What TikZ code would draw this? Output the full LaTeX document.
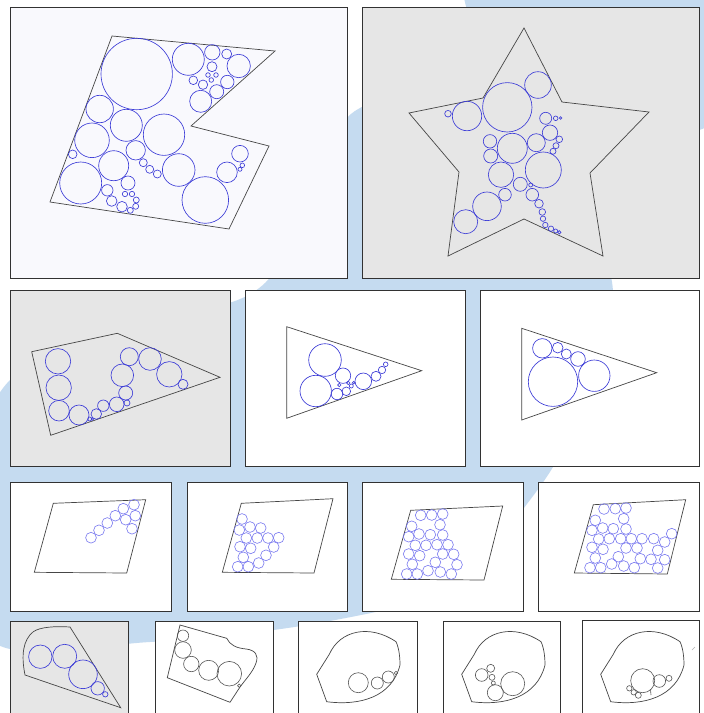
\documentclass[tikz,border=0pt]{standalone}
\definecolor{bgblue}{RGB}{197,219,240}
\definecolor{frame}{RGB}{50,50,50}
\definecolor{poly}{RGB}{70,70,70}
\definecolor{cblue}{RGB}{60,60,215}
\definecolor{lblue}{RGB}{120,120,240}
\definecolor{cgray}{RGB}{85,85,85}
\definecolor{panelgray}{RGB}{230,230,230}
\definecolor{panellav}{RGB}{249,249,253}
\tikzset{
  panelbox/.style={draw=frame, line width=0.9pt},
  shapeline/.style={draw=poly, line width=0.7pt, line join=miter},
  cb/.style={draw=cblue, line width=0.65pt},
  cl/.style={draw=lblue, line width=0.6pt},
  cg/.style={draw=cgray, line width=0.6pt},
}
\newcommand{\cir}[4]{\draw[#1] (#2,#3) circle[radius=#4pt];}
\newcommand{\leaf}{(316.7,674.3) -- (329.3,654.3) .. controls (340,630) and (370,624) .. (396,641.7) .. controls (399,648) and (400,657) .. (400,665) .. controls (392,697) and (360,706) .. (326.7,701.7) -- cycle}
\begin{document}
\begin{tikzpicture}[x=1pt,y=-1pt]
\useasboundingbox (0,0) rectangle (704,713);
\clip (0,0) rectangle (704,713);
\fill[white] (0,0) rectangle (704,713);
% background blue shapes (approximate)
\fill[bgblue] (640,-40) circle[radius=180pt];
\fill[bgblue] plot[smooth cycle, tension=0.6] coordinates {(10,380) (150,322) (265,283) (330,150) (360,108) (430,95) (530,150) (612,282) (575,420) (530,500) (450,585) (330,621) (150,642) (-10,640) (-25,500)};
% ---------- Panel 1 ----------
\filldraw[panelbox, fill=panellav] (10,7) rectangle (347,278);
\draw[shapeline] (112,36) -- (275,51) -- (191,126) -- (269,146) -- (229,229) -- (50,202) -- cycle;
\cir{cb}{136.7}{74}{35.7}
\cir{cb}{188.3}{59.3}{16}
\cir{cb}{212.3}{52.3}{7.7}
\cir{cb}{226.7}{54}{5}
\cir{cb}{238.7}{66}{11.7}
\cir{cb}{212}{66.7}{5}
\cir{cb}{208}{75}{2.3}
\cir{cb}{216}{75}{2.3}
\cir{cb}{211.3}{80}{2.3}
\cir{cb}{193.3}{80.3}{4.3}
\cir{cb}{203}{84.7}{4.7}
\cir{cb}{227.3}{82}{6.7}
\cir{cb}{216.7}{91.7}{7}
\cir{cb}{200.7}{101.3}{11}
\cir{cb}{99.7}{109}{13.7}
\cir{cb}{126.3}{125.3}{16}
\cir{cb}{164}{134.7}{20.7}
\cir{cb}{92}{140.3}{17.3}
\cir{cb}{72.7}{154.3}{4.3}
\cir{cb}{135.7}{150.3}{9.7}
\cir{cb}{113.7}{165.7}{15}
\cir{cb}{143.3}{162.7}{4}
\cir{cb}{149.7}{169.3}{4}
\cir{cb}{157.3}{174}{4}
\cir{cb}{178.7}{170}{16.3}
\cir{cb}{80.7}{183}{21}
\cir{cb}{128}{183}{7}
\cir{cb}{107.3}{190.3}{5.7}
\cir{cb}{125}{194}{2.7}
\cir{cb}{132}{194}{2.7}
\cir{cb}{136.3}{200}{3}
\cir{cb}{111.7}{201}{5.3}
\cir{cb}{135.7}{206.3}{3}
\cir{cb}{122}{206.7}{5.3}
\cir{cb}{130.3}{210.3}{3}
\cir{cb}{205.3}{200}{23.3}
\cir{cb}{227}{172.3}{10.3}
\cir{cb}{240}{153.7}{8.3}
\cir{cb}{242.3}{165.3}{2.3}
\cir{cb}{240}{169.3}{2}
% ---------- Panel 2 ----------
\filldraw[panelbox, fill=panelgray] (362,7) rectangle (699,278);
\draw[shapeline] (524,28) -- (562,102) -- (649,112) -- (590,173) -- (603,256) -- (524,219) -- (448,256) -- (459,172) -- (409,113) -- (483,98) -- cycle;
\cir{cb}{507.3}{107.3}{24.7}
\cir{cb}{538}{85}{13.3}
\cir{cb}{467}{116}{14.7}
\cir{cb}{448}{113.7}{3.3}
\cir{cb}{545.7}{118.3}{6}
\cir{cb}{555.7}{118.3}{2.3}
\cir{cb}{560.7}{118}{1.3}
\cir{cb}{550}{132.7}{7.7}
\cir{cb}{559.3}{139.3}{3.3}
\cir{cb}{556}{145.7}{3}
\cir{cb}{553}{151.3}{3}
\cir{cb}{490}{141.3}{6.7}
\cir{cb}{512.3}{148.3}{15}
\cir{cb}{536.3}{142.7}{9}
\cir{cb}{490.7}{156}{7}
\cir{cb}{543.3}{170}{18}
\cir{cb}{501}{174.7}{12.7}
\cir{cb}{520.3}{184.3}{7}
\cir{cb}{530.7}{185}{2}
\cir{cb}{532.3}{194.7}{6.3}
\cir{cb}{505}{194.7}{6.3}
\cir{cb}{487}{206.3}{14.3}
\cir{cb}{465.7}{221.7}{12}
\cir{cb}{539}{203.7}{4.3}
\cir{cb}{542.3}{212}{3.3}
\cir{cb}{543}{218.7}{2.7}
\cir{cb}{545.3}{225}{2.7}
\cir{cb}{551}{228.7}{2.7}
\cir{cb}{555.7}{231}{2}
\cir{cb}{559.3}{232.3}{1.7}
% ---------- Panel 3 ----------
\filldraw[panelbox, fill=panelgray] (10,290) rectangle (230,466);
\draw[shapeline] (31.7,351.7) -- (117.3,333.3) -- (220,377.3) -- (50.7,435.3) -- cycle;
\cir{cb}{58}{361.3}{12.7}
\cir{cb}{58.7}{387.7}{12.7}
\cir{cb}{59}{410.7}{10.3}
\cir{cb}{79}{415}{10}
\cir{cb}{89.7}{419}{2}
\cir{cb}{92.3}{419}{1.3}
\cir{cb}{96.3}{414}{5.3}
\cir{cb}{103.3}{405.7}{5.7}
\cir{cb}{116.7}{404.3}{7.3}
\cir{cb}{127}{403}{3}
\cir{cb}{125.7}{393}{7}
\cir{cb}{122.3}{375.3}{11.3}
\cir{cb}{129.3}{356.7}{9}
\cir{cb}{150}{359}{11.3}
\cir{cb}{169.3}{374.3}{12.7}
\cir{cb}{183}{384.3}{5}
% ---------- Panel 4 ----------
\filldraw[panelbox, fill=white] (245,290) rectangle (465,466);
\draw[shapeline] (286.7,326.7) -- (421.7,370.7) -- (286.7,418.3) -- cycle;
\cir{cb}{325}{360}{16.3}
\cir{cb}{315.7}{391}{15.7}
\cir{cb}{343}{375.7}{7.7}
\cir{cb}{337}{394}{5.7}
\cir{cb}{346.3}{391.3}{4.3}
\cir{cb}{339.3}{385}{1.7}
\cir{cb}{348.3}{383}{1.7}
\cir{cb}{351.3}{386}{2}
\cir{cb}{353.7}{382.7}{1.3}
\cir{cb}{363.3}{381.3}{8.3}
\cir{cb}{376}{376.3}{5}
\cir{cb}{382}{370}{3.7}
\cir{cb}{385.7}{364.3}{2.3}
% ---------- Panel 5 ----------
\filldraw[panelbox, fill=white] (480,290) rectangle (699,466);
\draw[shapeline] (521.7,328.3) -- (656.7,372.7) -- (521.7,420) -- cycle;
\cir{cb}{553}{381.7}{24.7}
\cir{cb}{594.3}{375.7}{15.7}
\cir{cb}{542.3}{348.3}{9.7}
\cir{cb}{557.7}{347.7}{5.3}
\cir{cb}{566.3}{354}{5}
\cir{cb}{578}{359}{7.3}
% ---------- Panel 6 ----------
\filldraw[panelbox, fill=white] (10,482) rectangle (171,611);
\draw[shapeline] (53.3,503.3) -- (145.7,499.7) -- (126.7,573) -- (34.3,572.3) -- cycle;
\foreach \x/\y in {91/537.7, 99/530.3, 107.3/523, 115.3/515.7, 123.3/508.7, 134/504.7, 135.3/515.7, 125.7/519.7, 132/528.7}
  {\cir{cl}{\x}{\y}{5.4}}
% ---------- Panel 7 ----------
\filldraw[panelbox, fill=white] (187,482) rectangle (347,611);
\draw[shapeline] (241.3,503.3) -- (333,498.7) -- (314,573) -- (222.3,572.3) -- cycle;
\foreach \x/\y in {242/519, 239.3/530, 250/527, 260.7/528, 246.3/538, 257.3/538, 268/538, 278.7/537.7, 240/546.7, 250.7/548.3, 273.7/547, 243.3/557.3, 266/555.3, 237.7/566.7, 248.3/566.7, 258.7/563}
  {\cir{cl}{\x}{\y}{5.4}}
% ---------- Panel 8 ----------
\filldraw[panelbox, fill=white] (362,482) rectangle (523,611);
\draw[shapeline] (410.7,510.3) -- (502.7,506) -- (484,580) -- (391.3,579.3) -- cycle;
\foreach \x/\y in {420.7/515.3, 431.7/515, 442.7/514, 440/524.7, 411.7/526.3, 408.7/536.7, 419/534, 430.3/534.7, 442.7/535, 415.3/545.3, 426/545.3, 437/544.7, 448/544.7, 408.7/554, 419.7/555.7, 442.7/554, 453.7/554.3, 412.3/564.3, 435.3/562.3, 457/564.7, 406.7/574, 417.3/574, 428/570.7, 440.3/572, 451.3/574}
  {\cir{cl}{\x}{\y}{5.4}}
% ---------- Panel 9 ----------
\filldraw[panelbox, fill=white] (538,482) rectangle (699,611);
\draw[shapeline] (593.3,504.7) -- (685.7,499.7) -- (667.3,574) -- (574.3,573) -- cycle;
\foreach \x/\y in {604/509, 615.3/508.7, 626/508, 595.3/520.3, 623.7/518.7, 592/530.3, 602.7/528, 613.3/528.7, 626/529, 598.7/539, 609.3/538.7, 620.7/538.7, 631.3/538.7, 642/538.7, 653.7/538.7, 664.7/542, 671.7/533.7, 592/547.3, 603/549.3, 626/548, 637/548, 657.7/550.3, 595.3/558, 618.3/556.7, 640.3/558.7, 651/559.3, 664.7/559.7, 590/567.7, 600.7/567.7, 611.7/564, 623.7/566, 634.3/567.7, 657.7/568}
  {\cir{cl}{\x}{\y}{5.4}}
% ---------- Panel 10 ----------
\filldraw[panelbox, fill=panelgray] (10,621) rectangle (128,730);
\draw[shapeline] (25,675) .. controls (21,655) and (23,640) .. (33.3,631.7) .. controls (40,627) and (55,626) .. (70,627) -- (120.7,707.7) -- cycle;
\cir{cb}{40.3}{656.7}{11.7}
\cir{cb}{64.7}{656.3}{12}
\cir{cb}{83}{674.3}{14.3}
\cir{cb}{97.7}{688.3}{6.7}
\cir{cb}{105.3}{694.3}{2.7}
% ---------- Panel 11 ----------
\filldraw[panelbox, fill=white] (155,621) rectangle (273,730);
\draw[shapeline] (180,625) -- (226.7,638.3) .. controls (230,645) and (236,648) .. (246,649) .. controls (255,650) and (259,655) .. (256,663) .. controls (253,672) and (245,680) .. (240,687) -- (230,702.3) -- (167.3,677.7) -- cycle;
\cir{cg}{183}{635.7}{5.7}
\cir{cg}{183}{650}{8.3}
\cir{cg}{191.3}{664}{7.7}
\cir{cg}{208.7}{670.3}{10}
\cir{cg}{229.3}{673.7}{12.3}
\cir{cg}{239.3}{685.7}{1.7}
% ---------- Panel 12 ----------
\filldraw[panelbox, fill=white] (298,621) rectangle (417,730);
\draw[shapeline] \leaf;
\cir{cg}{358.3}{682.7}{10}
\cir{cg}{377.3}{683}{6}
\cir{cg}{388.3}{677}{6}
\cir{cg}{396}{673}{1.7}
% ---------- Panel 13 ----------
\filldraw[panelbox, fill=white] (443,621) rectangle (560,730);
\begin{scope}[xshift=145pt]
\draw[shapeline] \leaf;
\end{scope}
\cir{cg}{512.7}{683.7}{12}
\cir{cg}{495.3}{692.7}{8}
\cir{cg}{481.7}{675}{6.3}
\cir{cg}{490.7}{668.3}{4}
\cir{cg}{492}{677.3}{3}
\cir{cg}{493.3}{683}{2}
% ---------- Panel 14 ----------
\filldraw[panelbox, fill=white] (582,620) rectangle (699,730);
\begin{scope}[xshift=284pt]
\draw[shapeline] \leaf;
\end{scope}
\cir{cg}{642.7}{680.7}{12}
\cir{cg}{659.3}{681}{6.3}
\cir{cg}{669}{678.3}{3}
\cir{cg}{629.3}{688.3}{2.7}
\cir{cg}{633.7}{692.3}{2.7}
\cir{cg}{638.3}{695.3}{3}
\draw[cg] (650.5,689.5) -- (651,695);
\draw[draw=gray!60, line width=0.4pt] (692,650) -- (695,647);
\end{tikzpicture}
\end{document}
